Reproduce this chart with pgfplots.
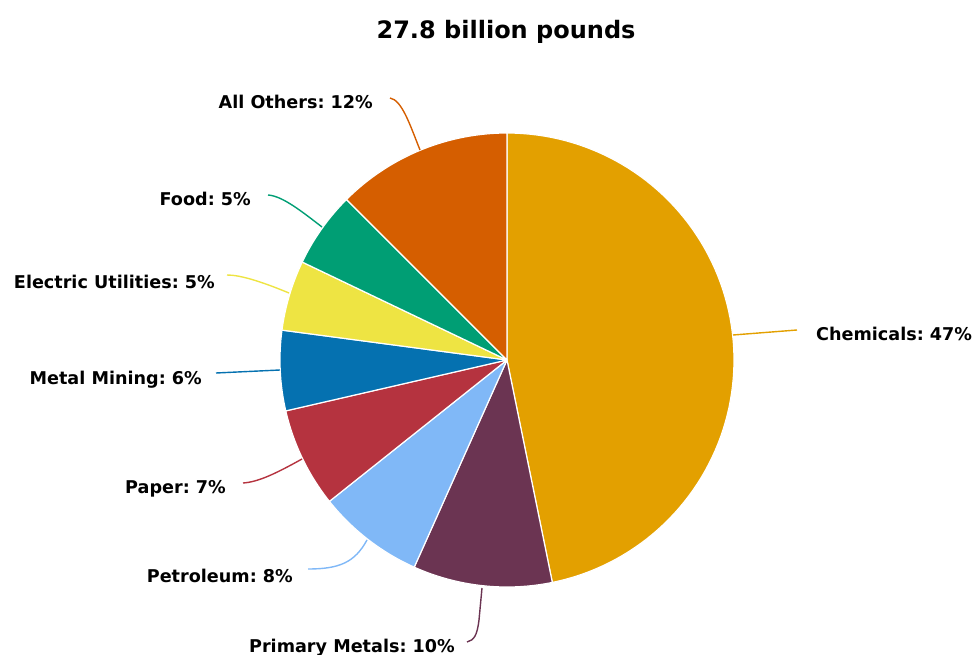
\documentclass[border=0pt]{standalone}
\usepackage{fontspec}
\setmainfont{DejaVu Sans}
\usepackage{pgfplots}
\pgfplotsset{compat=1.18}
\frenchspacing
\definecolor{chem}{HTML}{E3A000}
\definecolor{prim}{HTML}{6B3452}
\definecolor{petro}{HTML}{80B8F7}
\definecolor{paper}{HTML}{B5333F}
\definecolor{mining}{HTML}{0571B0}
\definecolor{elec}{HTML}{EEE443}
\definecolor{food}{HTML}{009E74}
\definecolor{others}{HTML}{D55E00}
% slice: start percent, end percent (cumulative), colour
\newcommand{\slice}[3]{%
  \addplot[draw=white, line width=1.2pt, line join=round, fill=#3,
    domain={3.6*#1}:{3.6*#2}, samples=90, variable=\t]
    ({507+227*sin(\t)},{360-227*cos(\t)}) -- (507,360) -- cycle;}
\newcommand{\lbl}{\fontsize{17.6}{21}\selectfont\bfseries}
\begin{document}
\begin{tikzpicture}
\begin{axis}[
  scale only axis, width=980pt, height=655pt,
  xmin=0, xmax=980, ymin=0, ymax=655, y dir=reverse,
  hide axis, clip=false]
% values (percent): Chemicals 46.8, Primary Metals 9.9, Petroleum 7.6, Paper 7.1,
% Metal Mining 5.7, Electric Utilities 5.0, Food 5.4, All Others 12.5
\slice{0}{46.8}{chem}
\slice{46.8}{56.7}{prim}
\slice{56.7}{64.3}{petro}
\slice{64.3}{71.4}{paper}
\slice{71.4}{77.1}{mining}
\slice{77.1}{82.1}{elec}
\slice{82.1}{87.5}{food}
\slice{87.5}{100}{others}
% connectors
\draw[chem, line width=1.4pt] (733,335) -- (797,330);
\draw[prim, line width=1.4pt] (482,588) -- (479,620) .. controls (477,636) and (474,640) .. (467,642);
\draw[petro, line width=1.4pt] (367,540) .. controls (355,562) and (340,569) .. (308,569);
\draw[paper, line width=1.4pt] (302,459) .. controls (275,474) and (258,482) .. (243,483);
\draw[mining, line width=1.4pt] (280,370) -- (216,373);
\draw[elec, line width=1.4pt] (289,293) .. controls (260,281) and (240,275) .. (227,275);
\draw[food, line width=1.4pt] (322,227) .. controls (300,210) and (282,196) .. (268,195);
\draw[others, line width=1.4pt] (420,150) .. controls (410,125) and (402,100) .. (390,98);
% labels
\node[anchor=base west, inner sep=0pt, font=\lbl] at (816,340) {Chemicals: 47\%};
\node[anchor=base east, inner sep=0pt, font=\lbl] at (455,652) {Primary Metals: 10\%};
\node[anchor=base east, inner sep=0pt, font=\lbl] at (293,582) {Petroleum: 8\%};
\node[anchor=base east, inner sep=0pt, font=\lbl] at (226,493) {Paper: 7\%};
\node[anchor=base east, inner sep=0pt, font=\lbl] at (202,384) {Metal Mining: 6\%};
\node[anchor=base east, inner sep=0pt, font=\lbl] at (215,288) {Electric Utilities: 5\%};
\node[anchor=base east, inner sep=0pt, font=\lbl] at (251,206) {Food: 5\%};
\node[anchor=base east, inner sep=0pt, font=\lbl] at (373,109) {All Others: 12\%};
\node[anchor=base, inner sep=0pt, font=\fontsize{24}{28}\selectfont\bfseries] at (506,39) {27.8 billion pounds};
\end{axis}
\pgfresetboundingbox
\path (current axis.south west) rectangle (current axis.north east);
\end{tikzpicture}
\end{document}
